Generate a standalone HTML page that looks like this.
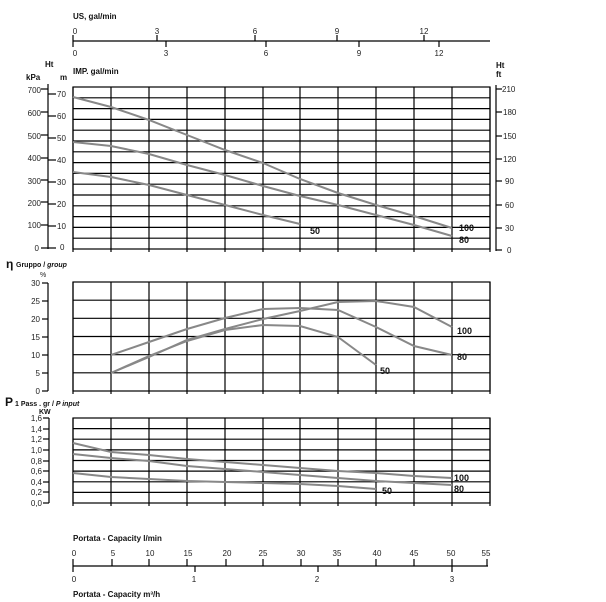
<!DOCTYPE html>
<html><head><meta charset="utf-8"><style>
html,body{margin:0;padding:0;background:#fff;}
svg{display:block;font-family:"Liberation Sans",Arial,sans-serif;}
.t{font-size:8px;fill:#222;}
.b{font-size:8px;font-weight:bold;fill:#111;}
.lb{font-size:9px;font-weight:bold;fill:#111;}
.g{stroke:#000;stroke-width:1.2;fill:none;}
.c{stroke:#888;stroke-width:2;fill:none;}
</style></head><body>
<svg width="606" height="602" viewBox="0 0 606 602" xmlns="http://www.w3.org/2000/svg">
<!-- top gal axis -->
<text class="b" x="73" y="19">US, gal/min</text>
<line class="g" x1="73" y1="41" x2="490" y2="41"/>
<g class="g">
<line x1="73" y1="35" x2="73" y2="47"/><line x1="157" y1="35" x2="157" y2="41"/><line x1="255" y1="35" x2="255" y2="41"/><line x1="337" y1="35" x2="337" y2="41"/><line x1="424" y1="35" x2="424" y2="41"/>
<line x1="166" y1="41" x2="166" y2="47"/><line x1="266" y1="41" x2="266" y2="47"/><line x1="359" y1="41" x2="359" y2="47"/><line x1="439" y1="41" x2="439" y2="47"/>
</g>
<g class="t" text-anchor="middle">
<text x="75" y="34">0</text><text x="157" y="34">3</text><text x="255" y="34">6</text><text x="337" y="34">9</text><text x="424" y="34">12</text>
<text x="75" y="56">0</text><text x="166" y="56">3</text><text x="266" y="56">6</text><text x="359" y="56">9</text><text x="439" y="56">12</text>
</g>
<text class="b" x="73" y="74">IMP. gal/min</text>
<text class="b" x="45" y="67">Ht</text><text class="b" x="26" y="80">kPa</text><text class="b" x="60" y="80">m</text>
<text class="b" x="496" y="68">Ht</text><text class="b" x="496" y="77">ft</text>

<!-- top chart grid -->
<g class="g">
<rect x="73" y="87" width="417" height="162"/>
<line x1="73" y1="97.8" x2="490" y2="97.8"/><line x1="73" y1="108.6" x2="490" y2="108.6"/><line x1="73" y1="119.4" x2="490" y2="119.4"/><line x1="73" y1="130.2" x2="490" y2="130.2"/><line x1="73" y1="141" x2="490" y2="141"/><line x1="73" y1="151.8" x2="490" y2="151.8"/><line x1="73" y1="162.6" x2="490" y2="162.6"/><line x1="73" y1="173.4" x2="490" y2="173.4"/><line x1="73" y1="184.2" x2="490" y2="184.2"/><line x1="73" y1="195" x2="490" y2="195"/><line x1="73" y1="205.8" x2="490" y2="205.8"/><line x1="73" y1="216.6" x2="490" y2="216.6"/><line x1="73" y1="227.4" x2="490" y2="227.4"/><line x1="73" y1="238.2" x2="490" y2="238.2"/>
<line x1="111" y1="87" x2="111" y2="252"/><line x1="149" y1="87" x2="149" y2="252"/><line x1="187" y1="87" x2="187" y2="252"/><line x1="225" y1="87" x2="225" y2="252"/><line x1="263" y1="87" x2="263" y2="252"/><line x1="300" y1="87" x2="300" y2="252"/><line x1="338" y1="87" x2="338" y2="252"/><line x1="376" y1="87" x2="376" y2="252"/><line x1="414" y1="87" x2="414" y2="252"/><line x1="452" y1="87" x2="452" y2="252"/><line x1="73" y1="87" x2="73" y2="252"/><line x1="490" y1="87" x2="490" y2="252"/>
</g>
<!-- left axes -->
<g class="g">
<line x1="48" y1="84" x2="48" y2="249"/>
<line x1="41" y1="89" x2="48" y2="89"/><line x1="41" y1="112" x2="48" y2="112"/><line x1="41" y1="135" x2="48" y2="135"/><line x1="41" y1="158" x2="48" y2="158"/><line x1="41" y1="180" x2="48" y2="180"/><line x1="41" y1="202" x2="48" y2="202"/><line x1="41" y1="225" x2="48" y2="225"/><line x1="41" y1="248" x2="48" y2="248"/>
<line x1="48" y1="94" x2="56" y2="94"/><line x1="48" y1="116" x2="56" y2="116"/><line x1="48" y1="138" x2="56" y2="138"/><line x1="48" y1="160" x2="56" y2="160"/><line x1="48" y1="182" x2="56" y2="182"/><line x1="48" y1="204" x2="56" y2="204"/><line x1="48" y1="226" x2="56" y2="226"/><line x1="48" y1="248" x2="56" y2="248"/>
</g>
<g class="t" text-anchor="end">
<text x="41" y="93">700</text><text x="41" y="116">600</text><text x="41" y="139">500</text><text x="41" y="161">400</text><text x="41" y="184">300</text><text x="41" y="206">200</text><text x="41" y="228">100</text><text x="39" y="251">0</text>
</g>
<g class="t">
<text x="57" y="97">70</text><text x="57" y="119">60</text><text x="57" y="141">50</text><text x="57" y="163">40</text><text x="57" y="185">30</text><text x="57" y="207">20</text><text x="57" y="229">10</text><text x="60" y="250">0</text>
</g>
<!-- right axis -->
<g class="g">
<line x1="496" y1="85" x2="496" y2="251"/>
<line x1="496" y1="89" x2="502" y2="89"/><line x1="496" y1="112" x2="502" y2="112"/><line x1="496" y1="136" x2="502" y2="136"/><line x1="496" y1="159" x2="502" y2="159"/><line x1="496" y1="181" x2="502" y2="181"/><line x1="496" y1="205" x2="502" y2="205"/><line x1="496" y1="228" x2="502" y2="228"/><line x1="496" y1="250" x2="502" y2="250"/>
</g>
<g class="t">
<text x="502" y="92">210</text><text x="503" y="115">180</text><text x="503" y="139">150</text><text x="503" y="162">120</text><text x="505" y="184">90</text><text x="505" y="208">60</text><text x="505" y="231">30</text><text x="507" y="253">0</text>
</g>
<!-- top curves -->
<polyline class="c" points="73,97 111,107 149,120 187,135 225,150 263,163 300,179 338,193 376,205 414,216 452,228"/>
<polyline class="c" points="73,142 111,146 149,154 187,165 225,175 263,186 300,196 338,205 376,215 414,225 452,236"/>
<polyline class="c" points="73,172 111,177 149,185 187,195 225,205 263,215 300,224"/>
<text class="lb" x="459" y="231">100</text><text class="lb" x="459" y="243">80</text><text class="lb" x="310" y="234">50</text>

<!-- efficiency chart -->
<text x="6" y="268" style="font-size:12px;font-weight:bold;fill:#111">η</text>
<text class="b" x="16" y="267" style="font-size:7px">Gruppo / <tspan font-style="italic">group</tspan></text>
<text class="t" x="40" y="277" style="font-size:7px">%</text>
<g class="g">
<rect x="73" y="282" width="417" height="109"/>
<line x1="73" y1="300.2" x2="490" y2="300.2"/><line x1="73" y1="318.3" x2="490" y2="318.3"/><line x1="73" y1="336.5" x2="490" y2="336.5"/><line x1="73" y1="354.7" x2="490" y2="354.7"/><line x1="73" y1="372.8" x2="490" y2="372.8"/>
<line x1="111" y1="282" x2="111" y2="394"/><line x1="149" y1="282" x2="149" y2="394"/><line x1="187" y1="282" x2="187" y2="394"/><line x1="225" y1="282" x2="225" y2="394"/><line x1="263" y1="282" x2="263" y2="394"/><line x1="300" y1="282" x2="300" y2="394"/><line x1="338" y1="282" x2="338" y2="394"/><line x1="376" y1="282" x2="376" y2="394"/><line x1="414" y1="282" x2="414" y2="394"/><line x1="452" y1="282" x2="452" y2="394"/><line x1="73" y1="282" x2="73" y2="394"/><line x1="490" y1="282" x2="490" y2="394"/>
<line x1="48" y1="283" x2="48" y2="391"/>
<line x1="42" y1="283" x2="48" y2="283"/><line x1="42" y1="301" x2="48" y2="301"/><line x1="42" y1="319" x2="48" y2="319"/><line x1="42" y1="337" x2="48" y2="337"/><line x1="42" y1="355" x2="48" y2="355"/><line x1="42" y1="373" x2="48" y2="373"/><line x1="42" y1="391" x2="48" y2="391"/>
</g>
<g class="t" text-anchor="end">
<text x="40" y="286">30</text><text x="40" y="304">25</text><text x="40" y="322">20</text><text x="40" y="340">15</text><text x="40" y="358">10</text><text x="40" y="376">5</text><text x="40" y="394">0</text>
</g>
<polyline class="c" points="111,355 149,342 187,329 225,318 263,309 300,308 338,310 376,327 414,346 452,355"/>
<polyline class="c" points="111,373 149,357 187,340 225,329 263,319 300,311 338,302 376,301 414,307 452,327"/>
<polyline class="c" points="111,373 149,356 187,341 225,330 263,325 300,326 338,337 376,365"/>
<text class="lb" x="457" y="334">100</text><text class="lb" x="457" y="360">80</text><text class="lb" x="380" y="374">50</text>

<!-- power chart -->
<text x="5" y="406" style="font-size:12px;font-weight:bold;fill:#111">P</text>
<text class="b" x="15" y="406" style="font-size:7px">1 Pass . gr / <tspan font-style="italic">P input</tspan></text>
<text class="b" x="39" y="414" style="font-size:7px">KW</text>
<g class="g">
<rect x="73" y="418" width="417" height="85"/>
<line x1="73" y1="428.6" x2="490" y2="428.6"/><line x1="73" y1="439.2" x2="490" y2="439.2"/><line x1="73" y1="449.9" x2="490" y2="449.9"/><line x1="73" y1="460.5" x2="490" y2="460.5"/><line x1="73" y1="471.1" x2="490" y2="471.1"/><line x1="73" y1="481.8" x2="490" y2="481.8"/><line x1="73" y1="492.4" x2="490" y2="492.4"/>
<line x1="111" y1="418" x2="111" y2="506"/><line x1="149" y1="418" x2="149" y2="506"/><line x1="187" y1="418" x2="187" y2="506"/><line x1="225" y1="418" x2="225" y2="506"/><line x1="263" y1="418" x2="263" y2="506"/><line x1="300" y1="418" x2="300" y2="506"/><line x1="338" y1="418" x2="338" y2="506"/><line x1="376" y1="418" x2="376" y2="506"/><line x1="414" y1="418" x2="414" y2="506"/><line x1="452" y1="418" x2="452" y2="506"/><line x1="73" y1="418" x2="73" y2="506"/><line x1="490" y1="418" x2="490" y2="506"/>
<line x1="49" y1="418" x2="49" y2="503"/>
<line x1="43" y1="418" x2="49" y2="418"/><line x1="43" y1="429" x2="49" y2="429"/><line x1="43" y1="439" x2="49" y2="439"/><line x1="43" y1="450" x2="49" y2="450"/><line x1="43" y1="461" x2="49" y2="461"/><line x1="43" y1="471" x2="49" y2="471"/><line x1="43" y1="482" x2="49" y2="482"/><line x1="43" y1="492" x2="49" y2="492"/><line x1="43" y1="503" x2="49" y2="503"/>
</g>
<g class="t" text-anchor="end">
<text x="42" y="421">1,6</text><text x="42" y="432">1,4</text><text x="42" y="442">1,2</text><text x="42" y="453">1,0</text><text x="42" y="464">0,8</text><text x="42" y="474">0,6</text><text x="42" y="485">0,4</text><text x="42" y="495">0,2</text><text x="42" y="506">0,0</text>
</g>
<polyline class="c" points="73,443 111,452 149,455 187,459 225,462 263,465 300,468 338,471 376,473 414,476 452,478"/>
<polyline class="c" points="73,454 111,458 149,461 187,466 225,469 263,472 300,475 338,478 376,481 414,483 452,485"/>
<polyline class="c" points="73,473 111,477 149,479 187,481 225,482 263,483 300,484 338,486 376,489"/>
<text class="lb" x="454" y="481">100</text><text class="lb" x="454" y="492">80</text><text class="lb" x="382" y="494">50</text>

<!-- bottom axis -->
<text class="b" x="73" y="541">Portata - Capacity l/min</text>
<line class="g" x1="73" y1="566" x2="488" y2="566"/>
<g class="g">
<line x1="73" y1="559" x2="73" y2="572"/><line x1="112" y1="559" x2="112" y2="566"/><line x1="149" y1="559" x2="149" y2="566"/><line x1="187" y1="559" x2="187" y2="566"/><line x1="226" y1="559" x2="226" y2="566"/><line x1="263" y1="559" x2="263" y2="566"/><line x1="301" y1="559" x2="301" y2="566"/><line x1="338" y1="559" x2="338" y2="566"/><line x1="376" y1="559" x2="376" y2="566"/><line x1="414" y1="559" x2="414" y2="566"/><line x1="452" y1="559" x2="452" y2="566"/><line x1="487" y1="559" x2="487" y2="566"/>
<line x1="195" y1="566" x2="195" y2="572"/><line x1="318" y1="566" x2="318" y2="572"/><line x1="452" y1="566" x2="452" y2="572"/>
</g>
<g class="t" text-anchor="middle">
<text x="74" y="556">0</text><text x="113" y="556">5</text><text x="150" y="556">10</text><text x="188" y="556">15</text><text x="227" y="556">20</text><text x="263" y="556">25</text><text x="301" y="556">30</text><text x="337" y="556">35</text><text x="377" y="556">40</text><text x="414" y="556">45</text><text x="451" y="556">50</text><text x="486" y="556">55</text>
<text x="74" y="582">0</text><text x="194" y="582">1</text><text x="317" y="582">2</text><text x="452" y="582">3</text>
</g>
<text class="b" x="73" y="597">Portata - Capacity m³/h</text>
</svg>
</body></html>
